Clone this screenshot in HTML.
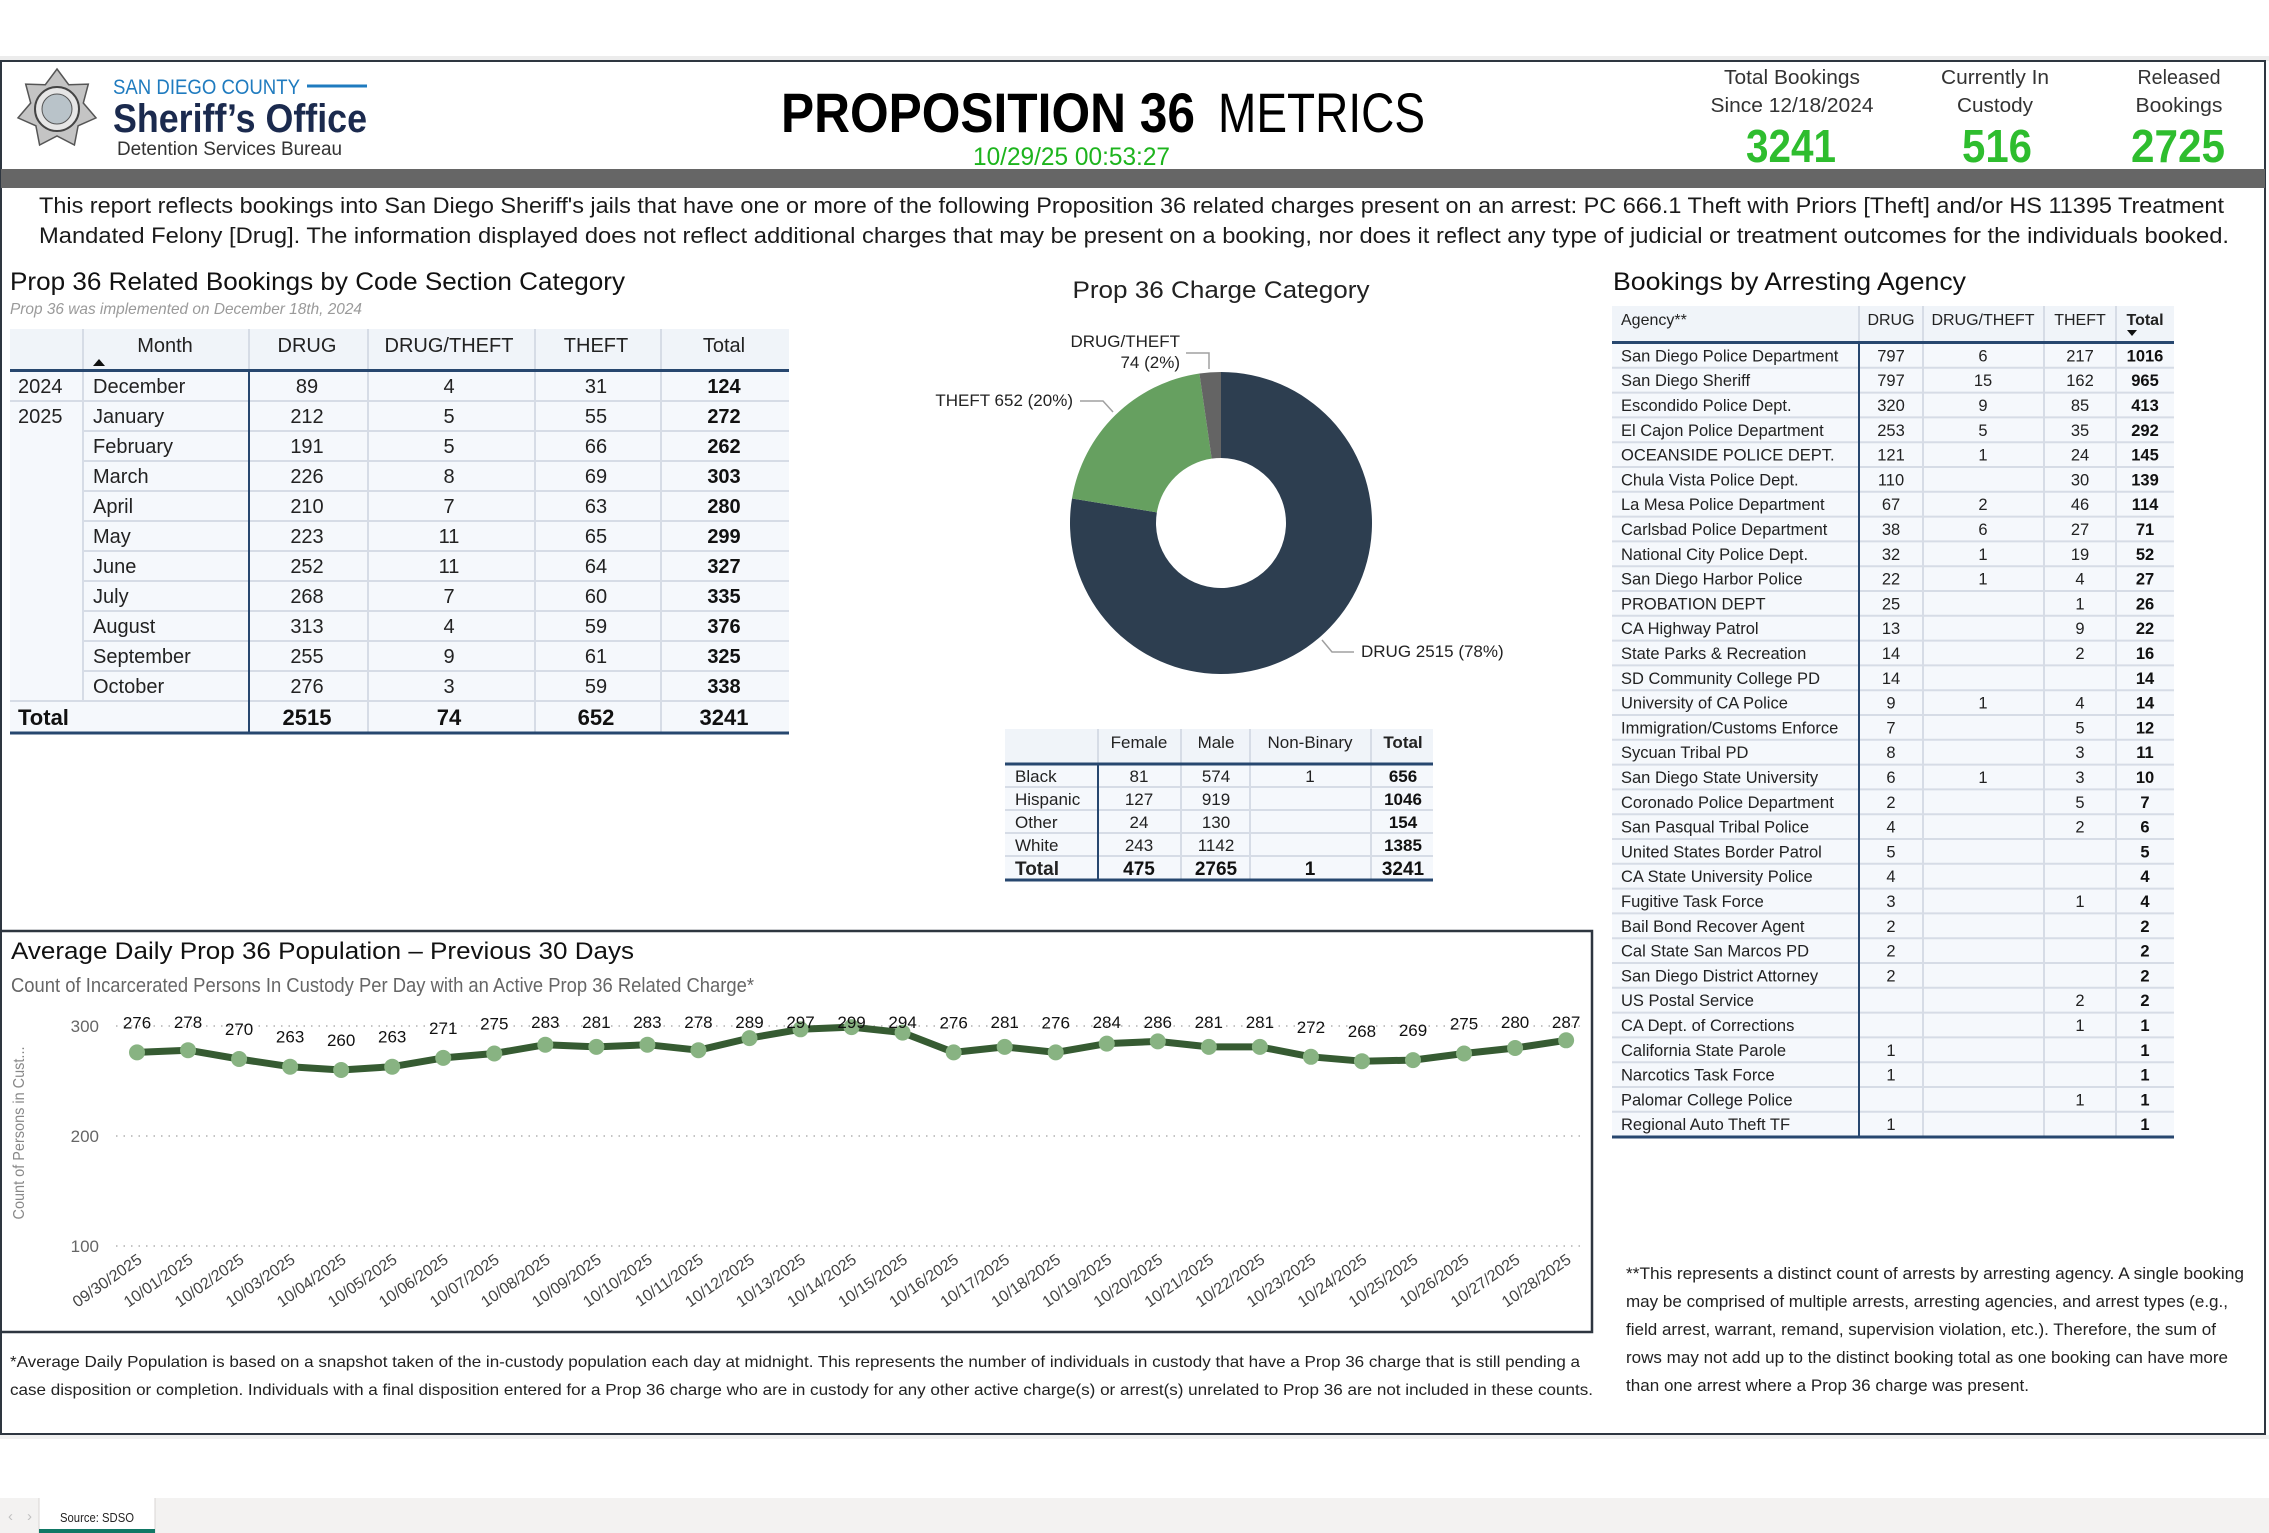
<!DOCTYPE html>
<html>
<head>
<meta charset="utf-8">
<style>
html,body{margin:0;padding:0;background:#fff;}
svg{display:block;}
text{font-family:"Liberation Sans",Arial,sans-serif;}
</style>
</head>
<body>
<svg width="2269" height="1533" viewBox="0 0 2269 1533" xmlns="http://www.w3.org/2000/svg">
<rect x="0" y="0" width="2269" height="1533" fill="#ffffff"/>
<!-- shadow -->
<rect x="0" y="56" width="2269" height="5" fill="#ececec"/>
<rect x="0" y="1435" width="2269" height="4" fill="#f0f0f0"/>
<!-- main box -->
<rect x="1" y="61" width="2264" height="1373" fill="#fff" stroke="#2e3640" stroke-width="2"/>

<!-- logo -->
<polygon points="57,69 68.7,84.7 88.3,84.1 83.3,103 96,117.9 78.1,125.8 74.4,145 57,136 39.6,145 35.9,125.8 18,117.9 30.7,103 25.7,84.1 45.3,84.7" fill="#c4c4c4" stroke="#555" stroke-width="1.5"/>
<circle cx="57" cy="109" r="22" fill="#e6e6e6" stroke="#444" stroke-width="2"/>
<circle cx="57" cy="109" r="15" fill="#b9c3c9" stroke="#555" stroke-width="1"/>
<text x="113" y="94" font-size="21" fill="#1f7bbf" textLength="187" lengthAdjust="spacingAndGlyphs">SAN DIEGO COUNTY</text>
<line x1="307" y1="86" x2="367" y2="86" stroke="#1f7bbf" stroke-width="3"/>
<text x="113" y="132" font-size="40" font-weight="bold" fill="#1b2a4e" textLength="254" lengthAdjust="spacingAndGlyphs">Sheriff’s Office</text>
<text x="117" y="155" font-size="19" fill="#333" textLength="225" lengthAdjust="spacingAndGlyphs">Detention Services Bureau</text>

<!-- title -->
<text x="781" y="132" font-size="56" font-weight="bold" fill="#000" textLength="414" lengthAdjust="spacingAndGlyphs">PROPOSITION 36</text>
<text x="1218" y="132" font-size="56" fill="#000" textLength="207" lengthAdjust="spacingAndGlyphs">METRICS</text>
<text x="973" y="165" font-size="25" fill="#1db41d" textLength="197" lengthAdjust="spacingAndGlyphs">10/29/25 00:53:27</text>

<!-- KPIs -->
<g font-size="20" fill="#333" text-anchor="middle">
<text x="1792" y="84" textLength="136" lengthAdjust="spacingAndGlyphs">Total Bookings</text>
<text x="1792" y="112" textLength="163" lengthAdjust="spacingAndGlyphs">Since 12/18/2024</text>
<text x="1995" y="84" textLength="108" lengthAdjust="spacingAndGlyphs">Currently In</text>
<text x="1995" y="112" textLength="76" lengthAdjust="spacingAndGlyphs">Custody</text>
<text x="2179" y="84" textLength="83" lengthAdjust="spacingAndGlyphs">Released</text>
<text x="2179" y="112" textLength="87" lengthAdjust="spacingAndGlyphs">Bookings</text>
</g>
<g font-size="46" font-weight="bold" fill="#2ebd2e">
<text x="1746" y="162" textLength="90" lengthAdjust="spacingAndGlyphs">3241</text>
<text x="1962" y="162" textLength="70" lengthAdjust="spacingAndGlyphs">516</text>
<text x="2131" y="162" textLength="94" lengthAdjust="spacingAndGlyphs">2725</text>
</g>

<!-- gray bar -->
<rect x="1" y="169" width="2264" height="19" fill="#666666"/>

<!-- description -->
<g font-size="22" fill="#1a1a1a">
<text x="39" y="213" textLength="2185" lengthAdjust="spacingAndGlyphs">This report reflects bookings into San Diego Sheriff's jails that have one or more of the following Proposition 36 related charges present on an arrest: PC 666.1 Theft with Priors [Theft] and/or HS 11395 Treatment</text>
<text x="39" y="243" textLength="2190" lengthAdjust="spacingAndGlyphs">Mandated Felony [Drug]. The information displayed does not reflect additional charges that may be present on a booking, nor does it reflect any type of judicial or treatment outcomes for the individuals booked.</text>
</g>

<!-- ===== Left table ===== -->
<text x="10" y="290" font-size="25" fill="#111" textLength="615" lengthAdjust="spacingAndGlyphs">Prop 36 Related Bookings by Code Section Category</text>
<text x="10" y="314" font-size="16" font-style="italic" fill="#9a9a9a" textLength="352" lengthAdjust="spacingAndGlyphs">Prop 36 was implemented on December 18th, 2024</text>

<rect x="10" y="329" width="779" height="41" fill="#f0f4f9"/>
<rect x="10" y="370" width="779" height="363" fill="#f5f8fc"/>
<g stroke="#d6dce6" stroke-width="2">
<line x1="83" y1="329" x2="83" y2="701"/>
<line x1="249" y1="329" x2="249" y2="370"/>
<line x1="368" y1="329" x2="368" y2="733"/>
<line x1="535" y1="329" x2="535" y2="733"/>
<line x1="661" y1="329" x2="661" y2="733"/>
<line x1="10" y1="401" x2="789" y2="401"/>
<line x1="83" y1="431" x2="789" y2="431"/>
<line x1="83" y1="461" x2="789" y2="461"/>
<line x1="83" y1="491" x2="789" y2="491"/>
<line x1="83" y1="521" x2="789" y2="521"/>
<line x1="83" y1="551" x2="789" y2="551"/>
<line x1="83" y1="581" x2="789" y2="581"/>
<line x1="83" y1="611" x2="789" y2="611"/>
<line x1="83" y1="641" x2="789" y2="641"/>
<line x1="83" y1="671" x2="789" y2="671"/>
<line x1="10" y1="701" x2="789" y2="701"/>
</g>
<line x1="10" y1="370.5" x2="789" y2="370.5" stroke="#27476f" stroke-width="3"/>
<line x1="249" y1="370" x2="249" y2="733" stroke="#27476f" stroke-width="2"/>
<line x1="10" y1="733" x2="789" y2="733" stroke="#27476f" stroke-width="3"/>
<g font-size="20" fill="#222" text-anchor="middle">
<text x="165" y="352">Month</text>
<text x="307" y="352">DRUG</text>
<text x="449" y="352">DRUG/THEFT</text>
<text x="596" y="352">THEFT</text>
<text x="724" y="352">Total</text>
</g>
<polygon points="93,366 99,359 105,366" fill="#111"/>
<g font-size="20" fill="#222">
<text x="18" y="393">2024</text>
<text x="18" y="423">2025</text>
<text x="93" y="393">December</text>
<text x="93" y="423">January</text>
<text x="93" y="453">February</text>
<text x="93" y="483">March</text>
<text x="93" y="513">April</text>
<text x="93" y="543">May</text>
<text x="93" y="573">June</text>
<text x="93" y="603">July</text>
<text x="93" y="633">August</text>
<text x="93" y="663">September</text>
<text x="93" y="693">October</text>
</g>
<g font-size="20" fill="#222" text-anchor="middle">
<text x="307" y="393">89</text><text x="449" y="393">4</text><text x="596" y="393">31</text>
<text x="307" y="423">212</text><text x="449" y="423">5</text><text x="596" y="423">55</text>
<text x="307" y="453">191</text><text x="449" y="453">5</text><text x="596" y="453">66</text>
<text x="307" y="483">226</text><text x="449" y="483">8</text><text x="596" y="483">69</text>
<text x="307" y="513">210</text><text x="449" y="513">7</text><text x="596" y="513">63</text>
<text x="307" y="543">223</text><text x="449" y="543">11</text><text x="596" y="543">65</text>
<text x="307" y="573">252</text><text x="449" y="573">11</text><text x="596" y="573">64</text>
<text x="307" y="603">268</text><text x="449" y="603">7</text><text x="596" y="603">60</text>
<text x="307" y="633">313</text><text x="449" y="633">4</text><text x="596" y="633">59</text>
<text x="307" y="663">255</text><text x="449" y="663">9</text><text x="596" y="663">61</text>
<text x="307" y="693">276</text><text x="449" y="693">3</text><text x="596" y="693">59</text>
</g>
<g font-size="20" font-weight="bold" fill="#111" text-anchor="middle">
<text x="724" y="393">124</text>
<text x="724" y="423">272</text>
<text x="724" y="453">262</text>
<text x="724" y="483">303</text>
<text x="724" y="513">280</text>
<text x="724" y="543">299</text>
<text x="724" y="573">327</text>
<text x="724" y="603">335</text>
<text x="724" y="633">376</text>
<text x="724" y="663">325</text>
<text x="724" y="693">338</text>
</g>
<g font-size="22" font-weight="bold" fill="#111">
<text x="18" y="725">Total</text>
<text x="307" y="725" text-anchor="middle">2515</text>
<text x="449" y="725" text-anchor="middle">74</text>
<text x="596" y="725" text-anchor="middle">652</text>
<text x="724" y="725" text-anchor="middle">3241</text>
</g>

<!-- ===== Donut ===== -->
<text x="1221" y="298" font-size="24" fill="#222" text-anchor="middle" textLength="297" lengthAdjust="spacingAndGlyphs">Prop 36 Charge Category</text>
<path d="M 1221 372 A 151 151 0 1 1 1072.01 498.44 L 1156.87 512.43 A 65 65 0 1 0 1221 458 Z" fill="#2d3e50"/>
<path d="M 1072.01 498.44 A 151 151 0 0 1 1199.41 373.55 L 1211.71 458.67 A 65 65 0 0 0 1156.87 512.43 Z" fill="#66a060"/>
<path d="M 1199.41 373.55 A 151 151 0 0 1 1221 372 L 1221 458 A 65 65 0 0 0 1211.71 458.67 Z" fill="#646464"/>
<g fill="none" stroke="#a0a0a0" stroke-width="1.5">
<polyline points="1186,353 1209,353 1209,369"/>
<polyline points="1080,401 1103,401 1113,412"/>
<polyline points="1322,640 1332,652 1354,652"/>
</g>
<g font-size="17" fill="#222">
<text x="1180" y="347" text-anchor="end">DRUG/THEFT</text>
<text x="1180" y="368" text-anchor="end">74 (2%)</text>
<text x="1073" y="406" text-anchor="end">THEFT 652 (20%)</text>
<text x="1361" y="657">DRUG 2515 (78%)</text>
</g>

<!-- ===== Demographics table ===== -->
<rect x="1005" y="729" width="428" height="35" fill="#f0f4f9"/>
<rect x="1005" y="764" width="428" height="116" fill="#f5f8fc"/>
<g stroke="#d6dce6" stroke-width="2">
<line x1="1098" y1="729" x2="1098" y2="764"/>
<line x1="1181" y1="729" x2="1181" y2="880"/>
<line x1="1250" y1="729" x2="1250" y2="880"/>
<line x1="1371" y1="729" x2="1371" y2="880"/>
<line x1="1005" y1="787" x2="1433" y2="787"/>
<line x1="1005" y1="810" x2="1433" y2="810"/>
<line x1="1005" y1="833" x2="1433" y2="833"/>
<line x1="1005" y1="856" x2="1433" y2="856"/>
</g>
<line x1="1005" y1="764" x2="1433" y2="764" stroke="#27476f" stroke-width="3"/>
<line x1="1098" y1="764" x2="1098" y2="880" stroke="#27476f" stroke-width="2"/>
<line x1="1005" y1="880" x2="1433" y2="880" stroke="#27476f" stroke-width="3"/>
<g font-size="17" fill="#222" text-anchor="middle">
<text x="1139" y="748">Female</text>
<text x="1216" y="748">Male</text>
<text x="1310" y="748">Non-Binary</text>
<text x="1403" y="748" font-weight="bold">Total</text>
</g>
<g font-size="17" fill="#222">
<text x="1015" y="782">Black</text>
<text x="1015" y="805">Hispanic</text>
<text x="1015" y="828">Other</text>
<text x="1015" y="851">White</text>
<text x="1015" y="875" font-size="19" font-weight="bold">Total</text>
</g>
<g font-size="17" fill="#222" text-anchor="middle">
<text x="1139" y="782">81</text><text x="1216" y="782">574</text><text x="1310" y="782">1</text>
<text x="1139" y="805">127</text><text x="1216" y="805">919</text>
<text x="1139" y="828">24</text><text x="1216" y="828">130</text>
<text x="1139" y="851">243</text><text x="1216" y="851">1142</text>
</g>
<g font-size="17" font-weight="bold" fill="#111" text-anchor="middle">
<text x="1403" y="782">656</text>
<text x="1403" y="805">1046</text>
<text x="1403" y="828">154</text>
<text x="1403" y="851">1385</text>
</g>
<g font-size="19" font-weight="bold" fill="#111" text-anchor="middle">
<text x="1139" y="875">475</text>
<text x="1216" y="875">2765</text>
<text x="1310" y="875">1</text>
<text x="1403" y="875">3241</text>
</g>

<!-- ===== Agency table ===== -->
<text x="1613" y="290" font-size="25" fill="#111" textLength="353" lengthAdjust="spacingAndGlyphs">Bookings by Arresting Agency</text>
<rect x="1612" y="306" width="562" height="36" fill="#f0f4f9"/>
<rect x="1612" y="342" width="562" height="795" fill="#f5f8fc"/>
<g stroke="#d6dce6" stroke-width="2">
<line x1="1859" y1="306" x2="1859" y2="342"/>
<line x1="1923" y1="306" x2="1923" y2="1137"/>
<line x1="2044" y1="306" x2="2044" y2="1137"/>
<line x1="2116" y1="306" x2="2116" y2="1137"/>
<line x1="1612" y1="367.8" x2="2174" y2="367.8"/>
<line x1="1612" y1="392.6" x2="2174" y2="392.6"/>
<line x1="1612" y1="417.4" x2="2174" y2="417.4"/>
<line x1="1612" y1="442.2" x2="2174" y2="442.2"/>
<line x1="1612" y1="467" x2="2174" y2="467"/>
<line x1="1612" y1="491.8" x2="2174" y2="491.8"/>
<line x1="1612" y1="516.6" x2="2174" y2="516.6"/>
<line x1="1612" y1="541.4" x2="2174" y2="541.4"/>
<line x1="1612" y1="566.2" x2="2174" y2="566.2"/>
<line x1="1612" y1="591" x2="2174" y2="591"/>
<line x1="1612" y1="615.8" x2="2174" y2="615.8"/>
<line x1="1612" y1="640.6" x2="2174" y2="640.6"/>
<line x1="1612" y1="665.4" x2="2174" y2="665.4"/>
<line x1="1612" y1="690.2" x2="2174" y2="690.2"/>
<line x1="1612" y1="715" x2="2174" y2="715"/>
<line x1="1612" y1="739.8" x2="2174" y2="739.8"/>
<line x1="1612" y1="764.6" x2="2174" y2="764.6"/>
<line x1="1612" y1="789.4" x2="2174" y2="789.4"/>
<line x1="1612" y1="814.2" x2="2174" y2="814.2"/>
<line x1="1612" y1="839" x2="2174" y2="839"/>
<line x1="1612" y1="863.8" x2="2174" y2="863.8"/>
<line x1="1612" y1="888.6" x2="2174" y2="888.6"/>
<line x1="1612" y1="913.4" x2="2174" y2="913.4"/>
<line x1="1612" y1="938.2" x2="2174" y2="938.2"/>
<line x1="1612" y1="963" x2="2174" y2="963"/>
<line x1="1612" y1="987.8" x2="2174" y2="987.8"/>
<line x1="1612" y1="1012.6" x2="2174" y2="1012.6"/>
<line x1="1612" y1="1037.4" x2="2174" y2="1037.4"/>
<line x1="1612" y1="1062.2" x2="2174" y2="1062.2"/>
<line x1="1612" y1="1087" x2="2174" y2="1087"/>
<line x1="1612" y1="1111.8" x2="2174" y2="1111.8"/>
</g>
<line x1="1612" y1="342.5" x2="2174" y2="342.5" stroke="#27476f" stroke-width="3"/>
<line x1="1859" y1="342" x2="1859" y2="1137" stroke="#27476f" stroke-width="2"/>
<line x1="1612" y1="1137" x2="2174" y2="1137" stroke="#27476f" stroke-width="3"/>
<g font-size="16" fill="#222">
<text x="1621" y="325">Agency**</text>
<text x="1891" y="325" text-anchor="middle">DRUG</text>
<text x="1983" y="325" text-anchor="middle">DRUG/THEFT</text>
<text x="2080" y="325" text-anchor="middle">THEFT</text>
<text x="2145" y="325" text-anchor="middle" font-weight="bold">Total</text>
</g>
<polygon points="2127,330 2137,330 2132,336" fill="#111"/>
<g font-size="16.5" fill="#222">
<text x="1621" y="361.4">San Diego Police Department</text>
<text x="1621" y="386.2">San Diego Sheriff</text>
<text x="1621" y="411">Escondido Police Dept.</text>
<text x="1621" y="435.8">El Cajon Police Department</text>
<text x="1621" y="460.6">OCEANSIDE POLICE DEPT.</text>
<text x="1621" y="485.4">Chula Vista Police Dept.</text>
<text x="1621" y="510.2">La Mesa Police Department</text>
<text x="1621" y="535">Carlsbad Police Department</text>
<text x="1621" y="559.8">National City Police Dept.</text>
<text x="1621" y="584.6">San Diego Harbor Police</text>
<text x="1621" y="609.4">PROBATION DEPT</text>
<text x="1621" y="634.2">CA Highway Patrol</text>
<text x="1621" y="659">State Parks &amp; Recreation</text>
<text x="1621" y="683.8">SD Community College PD</text>
<text x="1621" y="708.6">University of CA Police</text>
<text x="1621" y="733.4">Immigration/Customs Enforce</text>
<text x="1621" y="758.2">Sycuan Tribal PD</text>
<text x="1621" y="783">San Diego State University</text>
<text x="1621" y="807.8">Coronado Police Department</text>
<text x="1621" y="832.6">San Pasqual Tribal Police</text>
<text x="1621" y="857.4">United States Border Patrol</text>
<text x="1621" y="882.2">CA State University Police</text>
<text x="1621" y="907">Fugitive Task Force</text>
<text x="1621" y="931.8">Bail Bond Recover Agent</text>
<text x="1621" y="956.6">Cal State San Marcos PD</text>
<text x="1621" y="981.4">San Diego District Attorney</text>
<text x="1621" y="1006.2">US Postal Service</text>
<text x="1621" y="1031">CA Dept. of Corrections</text>
<text x="1621" y="1055.8">California State Parole</text>
<text x="1621" y="1080.6">Narcotics Task Force</text>
<text x="1621" y="1105.4">Palomar College Police</text>
<text x="1621" y="1130.2">Regional Auto Theft TF</text>
</g>
<g font-size="16.5" fill="#222" text-anchor="middle">
<text x="1891" y="361.4">797</text><text x="1983" y="361.4">6</text><text x="2080" y="361.4">217</text>
<text x="1891" y="386.2">797</text><text x="1983" y="386.2">15</text><text x="2080" y="386.2">162</text>
<text x="1891" y="411">320</text><text x="1983" y="411">9</text><text x="2080" y="411">85</text>
<text x="1891" y="435.8">253</text><text x="1983" y="435.8">5</text><text x="2080" y="435.8">35</text>
<text x="1891" y="460.6">121</text><text x="1983" y="460.6">1</text><text x="2080" y="460.6">24</text>
<text x="1891" y="485.4">110</text><text x="2080" y="485.4">30</text>
<text x="1891" y="510.2">67</text><text x="1983" y="510.2">2</text><text x="2080" y="510.2">46</text>
<text x="1891" y="535">38</text><text x="1983" y="535">6</text><text x="2080" y="535">27</text>
<text x="1891" y="559.8">32</text><text x="1983" y="559.8">1</text><text x="2080" y="559.8">19</text>
<text x="1891" y="584.6">22</text><text x="1983" y="584.6">1</text><text x="2080" y="584.6">4</text>
<text x="1891" y="609.4">25</text><text x="2080" y="609.4">1</text>
<text x="1891" y="634.2">13</text><text x="2080" y="634.2">9</text>
<text x="1891" y="659">14</text><text x="2080" y="659">2</text>
<text x="1891" y="683.8">14</text>
<text x="1891" y="708.6">9</text><text x="1983" y="708.6">1</text><text x="2080" y="708.6">4</text>
<text x="1891" y="733.4">7</text><text x="2080" y="733.4">5</text>
<text x="1891" y="758.2">8</text><text x="2080" y="758.2">3</text>
<text x="1891" y="783">6</text><text x="1983" y="783">1</text><text x="2080" y="783">3</text>
<text x="1891" y="807.8">2</text><text x="2080" y="807.8">5</text>
<text x="1891" y="832.6">4</text><text x="2080" y="832.6">2</text>
<text x="1891" y="857.4">5</text>
<text x="1891" y="882.2">4</text>
<text x="1891" y="907">3</text><text x="2080" y="907">1</text>
<text x="1891" y="931.8">2</text>
<text x="1891" y="956.6">2</text>
<text x="1891" y="981.4">2</text>
<text x="2080" y="1006.2">2</text>
<text x="2080" y="1031">1</text>
<text x="1891" y="1055.8">1</text>
<text x="1891" y="1080.6">1</text>
<text x="2080" y="1105.4">1</text>
<text x="1891" y="1130.2">1</text>
</g>
<g font-size="16.5" font-weight="bold" fill="#111" text-anchor="middle">
<text x="2145" y="361.4">1016</text>
<text x="2145" y="386.2">965</text>
<text x="2145" y="411">413</text>
<text x="2145" y="435.8">292</text>
<text x="2145" y="460.6">145</text>
<text x="2145" y="485.4">139</text>
<text x="2145" y="510.2">114</text>
<text x="2145" y="535">71</text>
<text x="2145" y="559.8">52</text>
<text x="2145" y="584.6">27</text>
<text x="2145" y="609.4">26</text>
<text x="2145" y="634.2">22</text>
<text x="2145" y="659">16</text>
<text x="2145" y="683.8">14</text>
<text x="2145" y="708.6">14</text>
<text x="2145" y="733.4">12</text>
<text x="2145" y="758.2">11</text>
<text x="2145" y="783">10</text>
<text x="2145" y="807.8">7</text>
<text x="2145" y="832.6">6</text>
<text x="2145" y="857.4">5</text>
<text x="2145" y="882.2">4</text>
<text x="2145" y="907">4</text>
<text x="2145" y="931.8">2</text>
<text x="2145" y="956.6">2</text>
<text x="2145" y="981.4">2</text>
<text x="2145" y="1006.2">2</text>
<text x="2145" y="1031">1</text>
<text x="2145" y="1055.8">1</text>
<text x="2145" y="1080.6">1</text>
<text x="2145" y="1105.4">1</text>
<text x="2145" y="1130.2">1</text>
</g>

<!-- right footnote -->
<g font-size="16.5" fill="#222">
<text x="1626" y="1279" textLength="618" lengthAdjust="spacingAndGlyphs">**This represents a distinct count of arrests by arresting agency. A single booking</text>
<text x="1626" y="1307" textLength="602" lengthAdjust="spacingAndGlyphs">may be comprised of multiple arrests, arresting agencies, and arrest types (e.g.,</text>
<text x="1626" y="1335" textLength="590" lengthAdjust="spacingAndGlyphs">field arrest, warrant, remand, supervision violation, etc.). Therefore, the sum of</text>
<text x="1626" y="1363" textLength="602" lengthAdjust="spacingAndGlyphs">rows may not add up to the distinct booking total as one booking can have more</text>
<text x="1626" y="1391" textLength="403" lengthAdjust="spacingAndGlyphs">than one arrest where a Prop 36 charge was present.</text>
</g>

<!-- ===== Line chart ===== -->
<path d="M 1 931 L 1592 931 L 1592 1332 L 1 1332" fill="none" stroke="#2e3640" stroke-width="2.5"/>
<text x="11" y="959" font-size="24" fill="#111" textLength="623" lengthAdjust="spacingAndGlyphs">Average Daily Prop 36 Population – Previous 30 Days</text>
<text x="11" y="992" font-size="20" fill="#666" textLength="743" lengthAdjust="spacingAndGlyphs">Count of Incarcerated Persons In Custody Per Day with an Active Prop 36 Related Charge*</text>
<text transform="translate(24,1133) rotate(-90)" font-size="16" fill="#888" text-anchor="middle" textLength="173" lengthAdjust="spacingAndGlyphs">Count of Persons in Cust...</text>
<g font-size="17" fill="#666" text-anchor="end">
<text x="99" y="1032">300</text>
<text x="99" y="1142">200</text>
<text x="99" y="1252">100</text>
</g>
<g stroke="#c4c4c4" stroke-width="2" stroke-dasharray="1.5,6">
<line x1="116" y1="1026" x2="1580" y2="1026"/>
<line x1="116" y1="1136" x2="1580" y2="1136"/>
<line x1="116" y1="1246" x2="1580" y2="1246"/>
</g>
<polyline fill="none" stroke="#365b32" stroke-width="7" stroke-linejoin="round" points="137,1052.4 188.04,1050.2 239.08,1059 290.12,1066.7 341.16,1070 392.2,1066.7 443.24,1057.9 494.28,1053.5 545.32,1044.7 596.36,1046.9 647.4,1044.7 698.44,1050.2 749.48,1038.1 800.52,1029.3 851.56,1027.1 902.6,1032.6 953.64,1052.4 1004.68,1046.9 1055.72,1052.4 1106.76,1043.6 1157.8,1041.4 1208.84,1046.9 1259.88,1046.9 1310.92,1056.8 1361.96,1061.2 1413,1060.1 1464.04,1053.5 1515.08,1048 1566.12,1040.3"/>
<g fill="#88b382">
<circle cx="137" cy="1052.4" r="8"/><circle cx="188.04" cy="1050.2" r="8"/><circle cx="239.08" cy="1059" r="8"/><circle cx="290.12" cy="1066.7" r="8"/><circle cx="341.16" cy="1070" r="8"/><circle cx="392.2" cy="1066.7" r="8"/><circle cx="443.24" cy="1057.9" r="8"/><circle cx="494.28" cy="1053.5" r="8"/><circle cx="545.32" cy="1044.7" r="8"/><circle cx="596.36" cy="1046.9" r="8"/><circle cx="647.4" cy="1044.7" r="8"/><circle cx="698.44" cy="1050.2" r="8"/><circle cx="749.48" cy="1038.1" r="8"/><circle cx="800.52" cy="1029.3" r="8"/><circle cx="851.56" cy="1027.1" r="8"/><circle cx="902.6" cy="1032.6" r="8"/><circle cx="953.64" cy="1052.4" r="8"/><circle cx="1004.68" cy="1046.9" r="8"/><circle cx="1055.72" cy="1052.4" r="8"/><circle cx="1106.76" cy="1043.6" r="8"/><circle cx="1157.8" cy="1041.4" r="8"/><circle cx="1208.84" cy="1046.9" r="8"/><circle cx="1259.88" cy="1046.9" r="8"/><circle cx="1310.92" cy="1056.8" r="8"/><circle cx="1361.96" cy="1061.2" r="8"/><circle cx="1413" cy="1060.1" r="8"/><circle cx="1464.04" cy="1053.5" r="8"/><circle cx="1515.08" cy="1048" r="8"/><circle cx="1566.12" cy="1040.3" r="8"/>
</g>
<g font-size="17" fill="#111" text-anchor="middle">
<text x="137" y="1028.4">276</text>
<text x="188.04" y="1028">278</text>
<text x="239.08" y="1035">270</text>
<text x="290.12" y="1042.7">263</text>
<text x="341.16" y="1046">260</text>
<text x="392.2" y="1042.7">263</text>
<text x="443.24" y="1033.9">271</text>
<text x="494.28" y="1029.5">275</text>
<text x="545.32" y="1028">283</text>
<text x="596.36" y="1028">281</text>
<text x="647.4" y="1028">283</text>
<text x="698.44" y="1028">278</text>
<text x="749.48" y="1028">289</text>
<text x="800.52" y="1028">297</text>
<text x="851.56" y="1028">299</text>
<text x="902.6" y="1028">294</text>
<text x="953.64" y="1028.4">276</text>
<text x="1004.68" y="1028">281</text>
<text x="1055.72" y="1028.4">276</text>
<text x="1106.76" y="1028">284</text>
<text x="1157.8" y="1028">286</text>
<text x="1208.84" y="1028">281</text>
<text x="1259.88" y="1028">281</text>
<text x="1310.92" y="1032.8">272</text>
<text x="1361.96" y="1037.2">268</text>
<text x="1413" y="1036.1">269</text>
<text x="1464.04" y="1029.5">275</text>
<text x="1515.08" y="1028">280</text>
<text x="1566.12" y="1028">287</text>
</g>
<g font-size="16" fill="#444" text-anchor="end">
<text transform="translate(143,1262) rotate(-35)">09/30/2025</text>
<text transform="translate(194.04,1262) rotate(-35)">10/01/2025</text>
<text transform="translate(245.08,1262) rotate(-35)">10/02/2025</text>
<text transform="translate(296.12,1262) rotate(-35)">10/03/2025</text>
<text transform="translate(347.16,1262) rotate(-35)">10/04/2025</text>
<text transform="translate(398.2,1262) rotate(-35)">10/05/2025</text>
<text transform="translate(449.24,1262) rotate(-35)">10/06/2025</text>
<text transform="translate(500.28,1262) rotate(-35)">10/07/2025</text>
<text transform="translate(551.32,1262) rotate(-35)">10/08/2025</text>
<text transform="translate(602.36,1262) rotate(-35)">10/09/2025</text>
<text transform="translate(653.4,1262) rotate(-35)">10/10/2025</text>
<text transform="translate(704.44,1262) rotate(-35)">10/11/2025</text>
<text transform="translate(755.48,1262) rotate(-35)">10/12/2025</text>
<text transform="translate(806.52,1262) rotate(-35)">10/13/2025</text>
<text transform="translate(857.56,1262) rotate(-35)">10/14/2025</text>
<text transform="translate(908.6,1262) rotate(-35)">10/15/2025</text>
<text transform="translate(959.64,1262) rotate(-35)">10/16/2025</text>
<text transform="translate(1010.68,1262) rotate(-35)">10/17/2025</text>
<text transform="translate(1061.72,1262) rotate(-35)">10/18/2025</text>
<text transform="translate(1112.76,1262) rotate(-35)">10/19/2025</text>
<text transform="translate(1163.8,1262) rotate(-35)">10/20/2025</text>
<text transform="translate(1214.84,1262) rotate(-35)">10/21/2025</text>
<text transform="translate(1265.88,1262) rotate(-35)">10/22/2025</text>
<text transform="translate(1316.92,1262) rotate(-35)">10/23/2025</text>
<text transform="translate(1367.96,1262) rotate(-35)">10/24/2025</text>
<text transform="translate(1419,1262) rotate(-35)">10/25/2025</text>
<text transform="translate(1470.04,1262) rotate(-35)">10/26/2025</text>
<text transform="translate(1521.08,1262) rotate(-35)">10/27/2025</text>
<text transform="translate(1572.12,1262) rotate(-35)">10/28/2025</text>
</g>

<!-- bottom-left footnote -->
<g font-size="16" fill="#222">
<text x="10" y="1367" textLength="1570" lengthAdjust="spacingAndGlyphs">*Average Daily Population is based on a snapshot taken of the in-custody population each day at midnight. This represents the number of individuals in custody that have a Prop 36 charge that is still pending a</text>
<text x="10" y="1395" textLength="1583" lengthAdjust="spacingAndGlyphs">case disposition or completion. Individuals with a final disposition entered for a Prop 36 charge who are in custody for any other active charge(s) or arrest(s) unrelated to Prop 36 are not included in these counts.</text>
</g>

<!-- tab bar -->
<rect x="0" y="1498" width="2269" height="35" fill="#f3f2f1"/>
<rect x="39" y="1498" width="116" height="35" fill="#ffffff"/>
<line x1="39" y1="1498" x2="39" y2="1533" stroke="#d8d6d4" stroke-width="1"/>
<line x1="155" y1="1498" x2="155" y2="1533" stroke="#d8d6d4" stroke-width="1"/>
<rect x="39" y="1529" width="116" height="4" fill="#117865"/>
<text x="60" y="1522" font-size="13" fill="#252423" textLength="74" lengthAdjust="spacingAndGlyphs">Source: SDSO</text>
<text x="8" y="1521" font-size="15" fill="#c0c0c0">‹</text>
<text x="27" y="1521" font-size="15" fill="#c0c0c0">›</text>
</svg>
</body>
</html>
